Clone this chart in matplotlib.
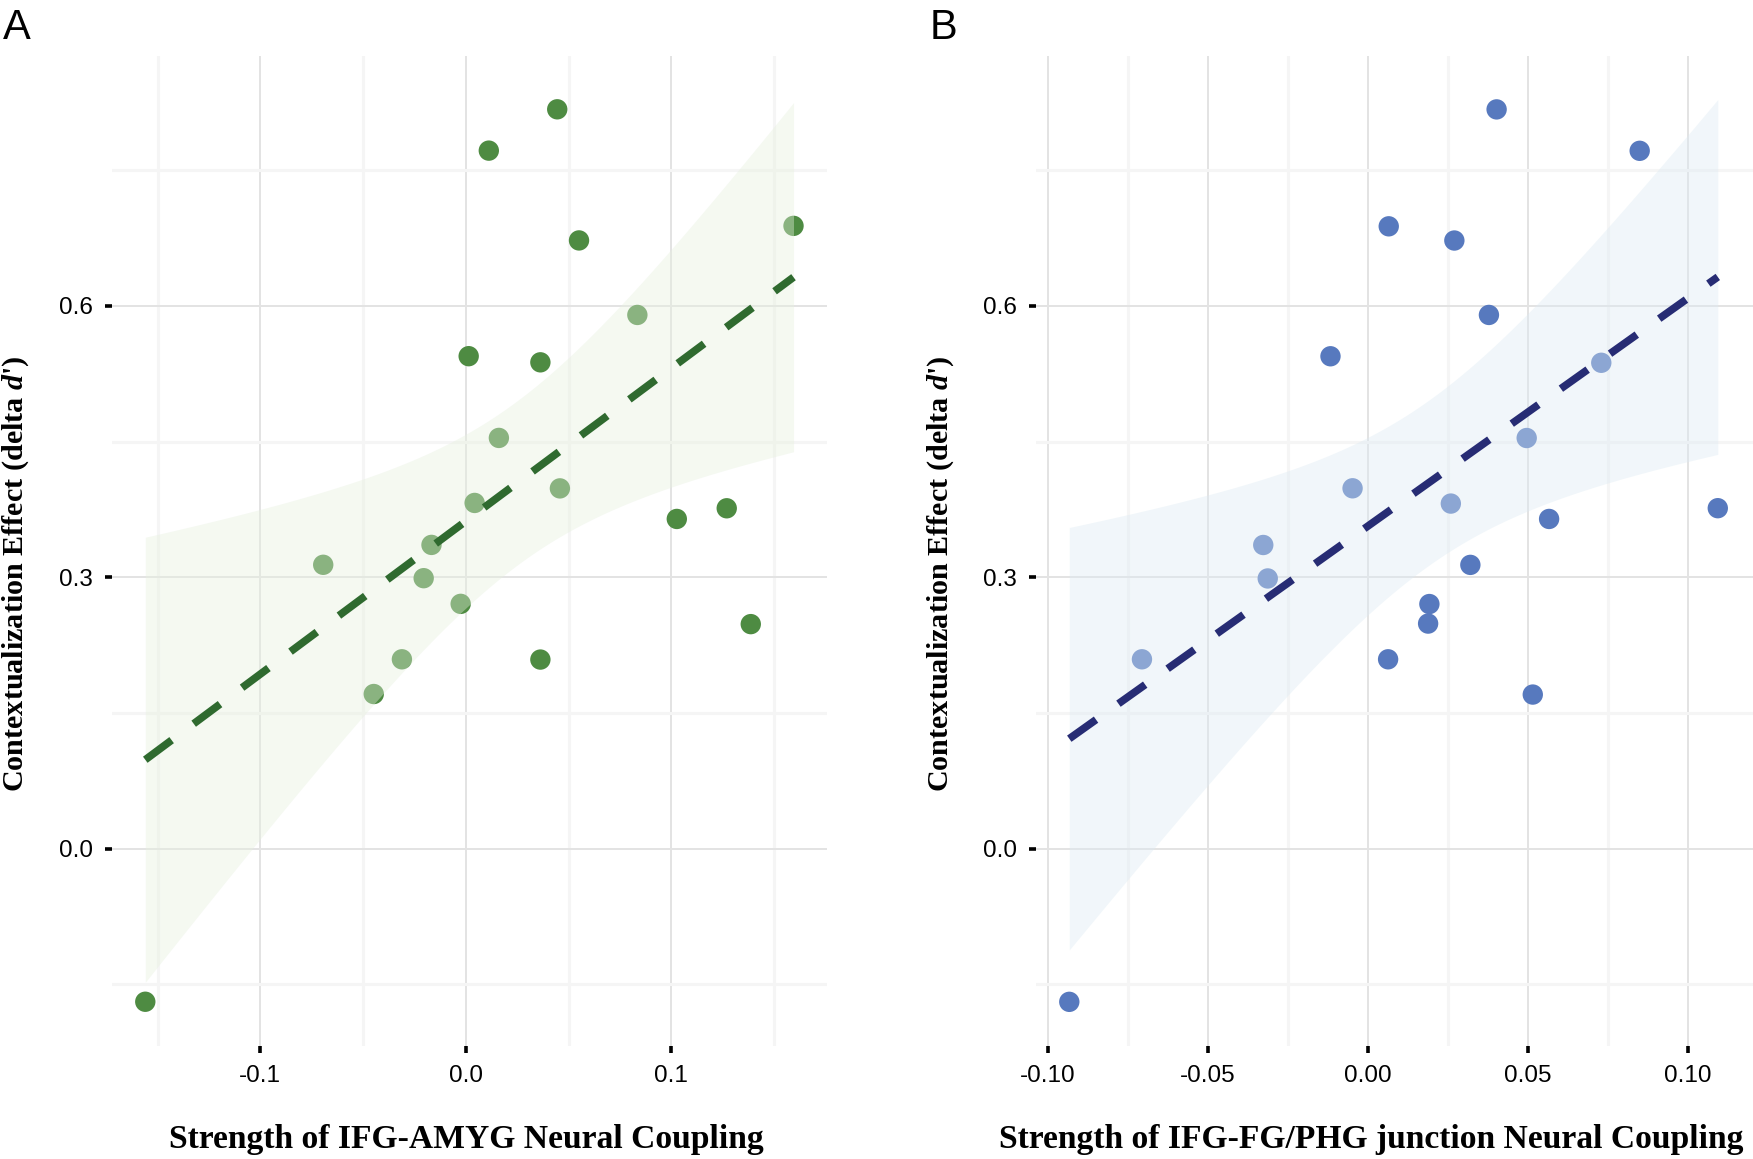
import matplotlib.pyplot as plt
import numpy as np

plt.rcParams['font.family'] = ['Liberation Sans', 'DejaVu Sans']
plt.rcParams['mathtext.fontset'] = 'custom'
plt.rcParams['mathtext.it'] = 'Liberation Serif:italic:bold'
plt.rcParams['mathtext.rm'] = 'Liberation Serif:bold'

# Panel A: IFG-AMYG coupling vs contextualization effect
amyg_x = np.array([0.0445, 0.0112, 0.0551, 0.1595, 0.0835, 0.0014, 0.0363,
                   0.0161, 0.0458, 0.0043, 0.1027, 0.1270, -0.0167, -0.0694,
                   -0.0205, -0.0025, 0.1387, 0.0363, -0.0311, -0.0448, -0.1560])
amyg_y = np.array([0.8175, 0.7718, 0.6725, 0.6886, 0.5901, 0.5445, 0.5377,
                   0.4541, 0.3983, 0.3822, 0.3645, 0.3763, 0.3358, 0.3138,
                   0.2990, 0.2706, 0.2482, 0.2090, 0.2093, 0.1709, -0.1694])

# Panel B: IFG-FG/PHG junction coupling vs contextualization effect
phg_x = np.array([0.0402, 0.0849, 0.0065, 0.0270, 0.0378, -0.0117, 0.0729,
                  0.0496, -0.0048, 0.0259, 0.0566, 0.1093, -0.0327, 0.0320,
                  -0.0313, 0.0192, 0.0188, 0.0063, -0.0706, 0.0515, -0.0933])
phg_y = np.array([0.8174, 0.7716, 0.6881, 0.6724, 0.5901, 0.5444, 0.5372,
                  0.4540, 0.3984, 0.3815, 0.3645, 0.3764, 0.3357, 0.3137,
                  0.2987, 0.2704, 0.2488, 0.2093, 0.2093, 0.1703, -0.1695])

y_ticks = [0.0, 0.3, 0.6]
y_labels = ['0.0', '0.3', '0.6']
a_ticks = [-0.1, 0.0, 0.1]
a_labels = ['-0.1', '0.0', '0.1']
b_ticks = [-0.10, -0.05, 0.00, 0.05, 0.10]
b_labels = ['-0.10', '-0.05', '0.00', '0.05', '0.10']

W, H = 1753, 1159
fig = plt.figure(figsize=(W / 100, H / 100), dpi=100)
axA = fig.add_axes([112 / W, 1 - 1045.7 / H, 715 / W, 990.2 / H])
axB = fig.add_axes([1036 / W, 1 - 1045.7 / H, 717 / W, 990.2 / H])


def panel(ax, x, y, pt_col, rib_col, line_col, xlim, xt, xl, xminor):
    ax.scatter(x, y, s=215, color=pt_col, edgecolors='none', zorder=2)
    # linear fit with 95% confidence band (df = n - 2 = 19)
    m, b = np.polyfit(x, y, 1)
    xs = np.linspace(x.min(), x.max(), 120)
    fit = m * xs + b
    n = len(x)
    s = np.sqrt(np.sum((y - (m * x + b)) ** 2) / (n - 2))
    se = s * np.sqrt(1 / n + (xs - x.mean()) ** 2 / np.sum((x - x.mean()) ** 2))
    ax.fill_between(xs, fit - 2.093 * se, fit + 2.093 * se, color=rib_col,
                    alpha=0.4, lw=0, zorder=3)
    ax.plot(xs, fit, color=line_col, lw=5.5, ls=(0, (4.3, 3.6)), zorder=4,
            dash_capstyle='butt', solid_capstyle='butt')

    ax.set_xlim(*xlim)
    ax.set_ylim(-0.218, 0.877)
    ax.set_xticks(xt)
    ax.set_xticklabels(xl)
    ax.set_xticks(xminor, minor=True)
    ax.set_yticks(y_ticks)
    ax.set_yticklabels(y_labels)
    ax.set_yticks([-0.15, 0.15, 0.45, 0.75], minor=True)
    ax.grid(which='major', color='#E3E3E3', lw=1.4)
    ax.grid(which='minor', color='#F5F5F5', lw=2.2)
    ax.set_axisbelow(True)
    for sp in ax.spines.values():
        sp.set_visible(False)
    ax.tick_params(which='major', length=5, width=2.6, color='black',
                   labelsize=17.5, pad=9)
    ax.tick_params(which='minor', length=0)


panel(axA, amyg_x, amyg_y, '#4E8B42', '#E6F0DE', '#2F6A2F',
      (-0.1722, 0.1758), a_ticks, a_labels, [-0.15, -0.05, 0.05, 0.15])
panel(axB, phg_x, phg_y, '#5779BE', '#DCEAF3', '#272C74',
      (-0.1037, 0.1203), b_ticks, b_labels,
      [-0.075, -0.025, 0.025, 0.075])

ylab = "Contextualization Effect (delta $d$')"
fig.text(16 / W, 1 - 573.7 / H, ylab, rotation=90, ha='center', va='center',
         fontsize=21.7, fontweight='bold', family='Liberation Serif')
fig.text(941 / W, 1 - 573.7 / H, ylab, rotation=90, ha='center', va='center',
         fontsize=21.7, fontweight='bold', family='Liberation Serif')

fig.text(466.7 / W, (H - 1148) / H, 'Strength of IFG-AMYG Neural Coupling',
         ha='center', va='baseline', fontsize=24.2, fontweight='bold',
         family='Liberation Serif')
fig.text(1371.7 / W, (H - 1148) / H,
         'Strength of IFG-FG/PHG junction Neural Coupling',
         ha='center', va='baseline', fontsize=24.2, fontweight='bold',
         family='Liberation Serif')

fig.text(3 / W, 1 - 7.7 / H, 'A', ha='left', va='top', fontsize=30)
fig.text(930 / W, 1 - 7.7 / H, 'B', ha='left', va='top', fontsize=30)

fig.savefig('out.png', dpi=100)
